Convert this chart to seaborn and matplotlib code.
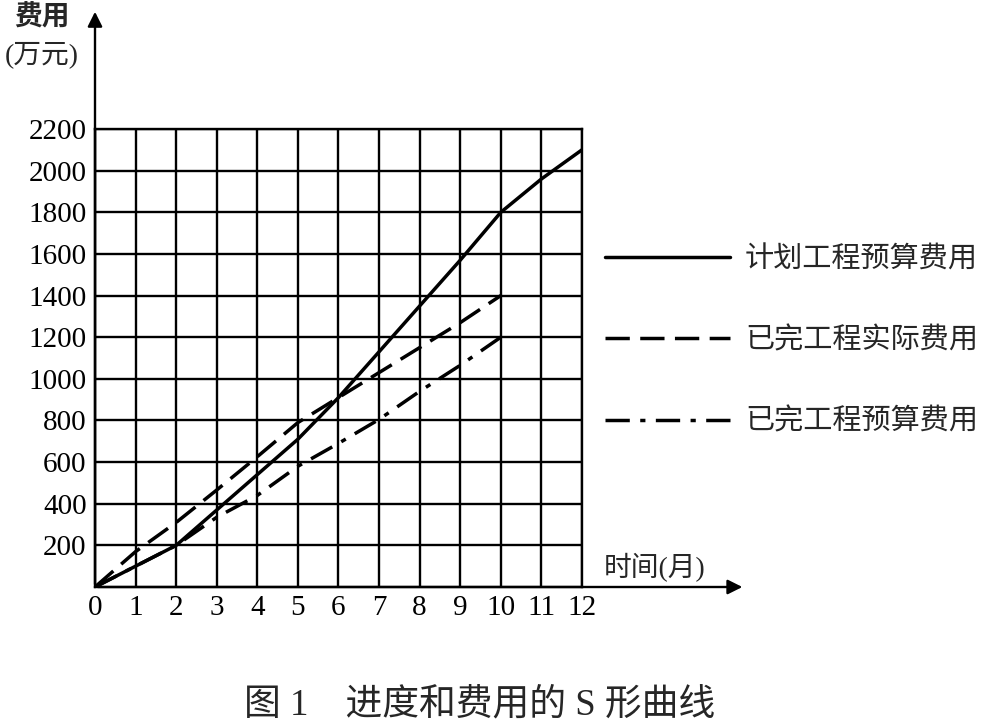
"""
S-curve of schedule and cost (进度和费用的S形曲线)
"""

import matplotlib
matplotlib.use("Agg")
import matplotlib.pyplot as plt
import seaborn as sns
import pandas as pd

# data
months_planned = [0, 1, 2, 3, 4, 5, 6, 7, 8, 9, 10, 11, 12]
planned_budget = [0, 100, 200, 370, 540, 710, 910, 1130, 1350, 1570, 1800, 1960, 2100]

months_done = [0, 1, 2, 3, 4, 5, 6, 7, 8, 9, 10]
actual_cost = [0, 170, 310, 466, 626, 790, 910, 1030, 1150, 1270, 1400]
earned_budget = [0, 100, 200, 335, 440, 580, 690, 805, 940, 1065, 1200]

series_names = ["计划工程预算费用", "已完工程实际费用", "已完工程预算费用"]

x_ticks = list(range(0, 13))
y_ticks = list(range(200, 2201, 200))

df = pd.concat([
    pd.DataFrame({"month": months_planned, "cost": planned_budget, "series": series_names[0]}),
    pd.DataFrame({"month": months_done, "cost": actual_cost, "series": series_names[1]}),
    pd.DataFrame({"month": months_done, "cost": earned_budget, "series": series_names[2]}),
], ignore_index=True)

sns.set_theme(style="white")
plt.rcParams['font.family'] = ['Liberation Serif', 'Noto Sans CJK SC']

fig = plt.figure(figsize=(9.95, 7.21), dpi=100)
ax = fig.add_axes([95 / 995, 1 - 587 / 721, (582 - 95) / 995, (587 - 129) / 721])

dashes = {series_names[0]: "", series_names[1]: (7, 3), series_names[2]: (7, 3, 1.5, 3)}
sns.lineplot(data=df, x="month", y="cost", style="series", dashes=dashes,
             color="black", linewidth=2.5, ax=ax, legend=True)

ax.set_xlim(0, 12)
ax.set_ylim(0, 2200)
ax.set_xticks(x_ticks)
ax.set_yticks(y_ticks)
ax.set_xticklabels([str(t) for t in x_ticks], fontsize=21)
ax.set_yticklabels([str(t) for t in y_ticks], fontsize=21)
ax.tick_params(length=0, pad=6, colors="black")
ax.grid(True, color="black", linewidth=1.7)
for sp in ax.spines.values():
    sp.set_color("black")
    sp.set_linewidth(1.7)
ax.set_xlabel("")
ax.set_ylabel("")

# axis arrows
ax.annotate("", xy=(1.335, 0), xytext=(0, 0), xycoords="axes fraction",
            arrowprops=dict(arrowstyle="-|>", color="black", lw=1.7, mutation_scale=22),
            annotation_clip=False)
ax.annotate("", xy=(0, 1.262), xytext=(0, 0), xycoords="axes fraction",
            arrowprops=dict(arrowstyle="-|>", color="black", lw=1.7, mutation_scale=22),
            annotation_clip=False)

# legend
handles, labels = ax.get_legend_handles_labels()
ax.legend(handles, labels, loc="center left", bbox_to_anchor=(605 / 995, 1 - 341 / 721),
          bbox_transform=fig.transFigure, frameon=False, fontsize=21,
          handlelength=4.3, handletextpad=0.5, labelspacing=1.85, borderpad=0,
          borderaxespad=0)

# axis titles and caption
fig.text(42 / 995, 1 - 18 / 721, "费用", fontsize=20, fontweight="bold",
         ha="center", va="center")
fig.text(42 / 995, 1 - 55 / 721, "(万元)", fontsize=20, ha="center", va="center")
fig.text(655 / 995, 1 - 568 / 721, "时间(月)", fontsize=20, ha="center", va="center")
fig.text(480 / 995, 1 - 705 / 721, "图 1    进度和费用的 S 形曲线", fontsize=26.5,
         ha="center", va="center")

plt.savefig("out.png", dpi=100)
plt.close()
